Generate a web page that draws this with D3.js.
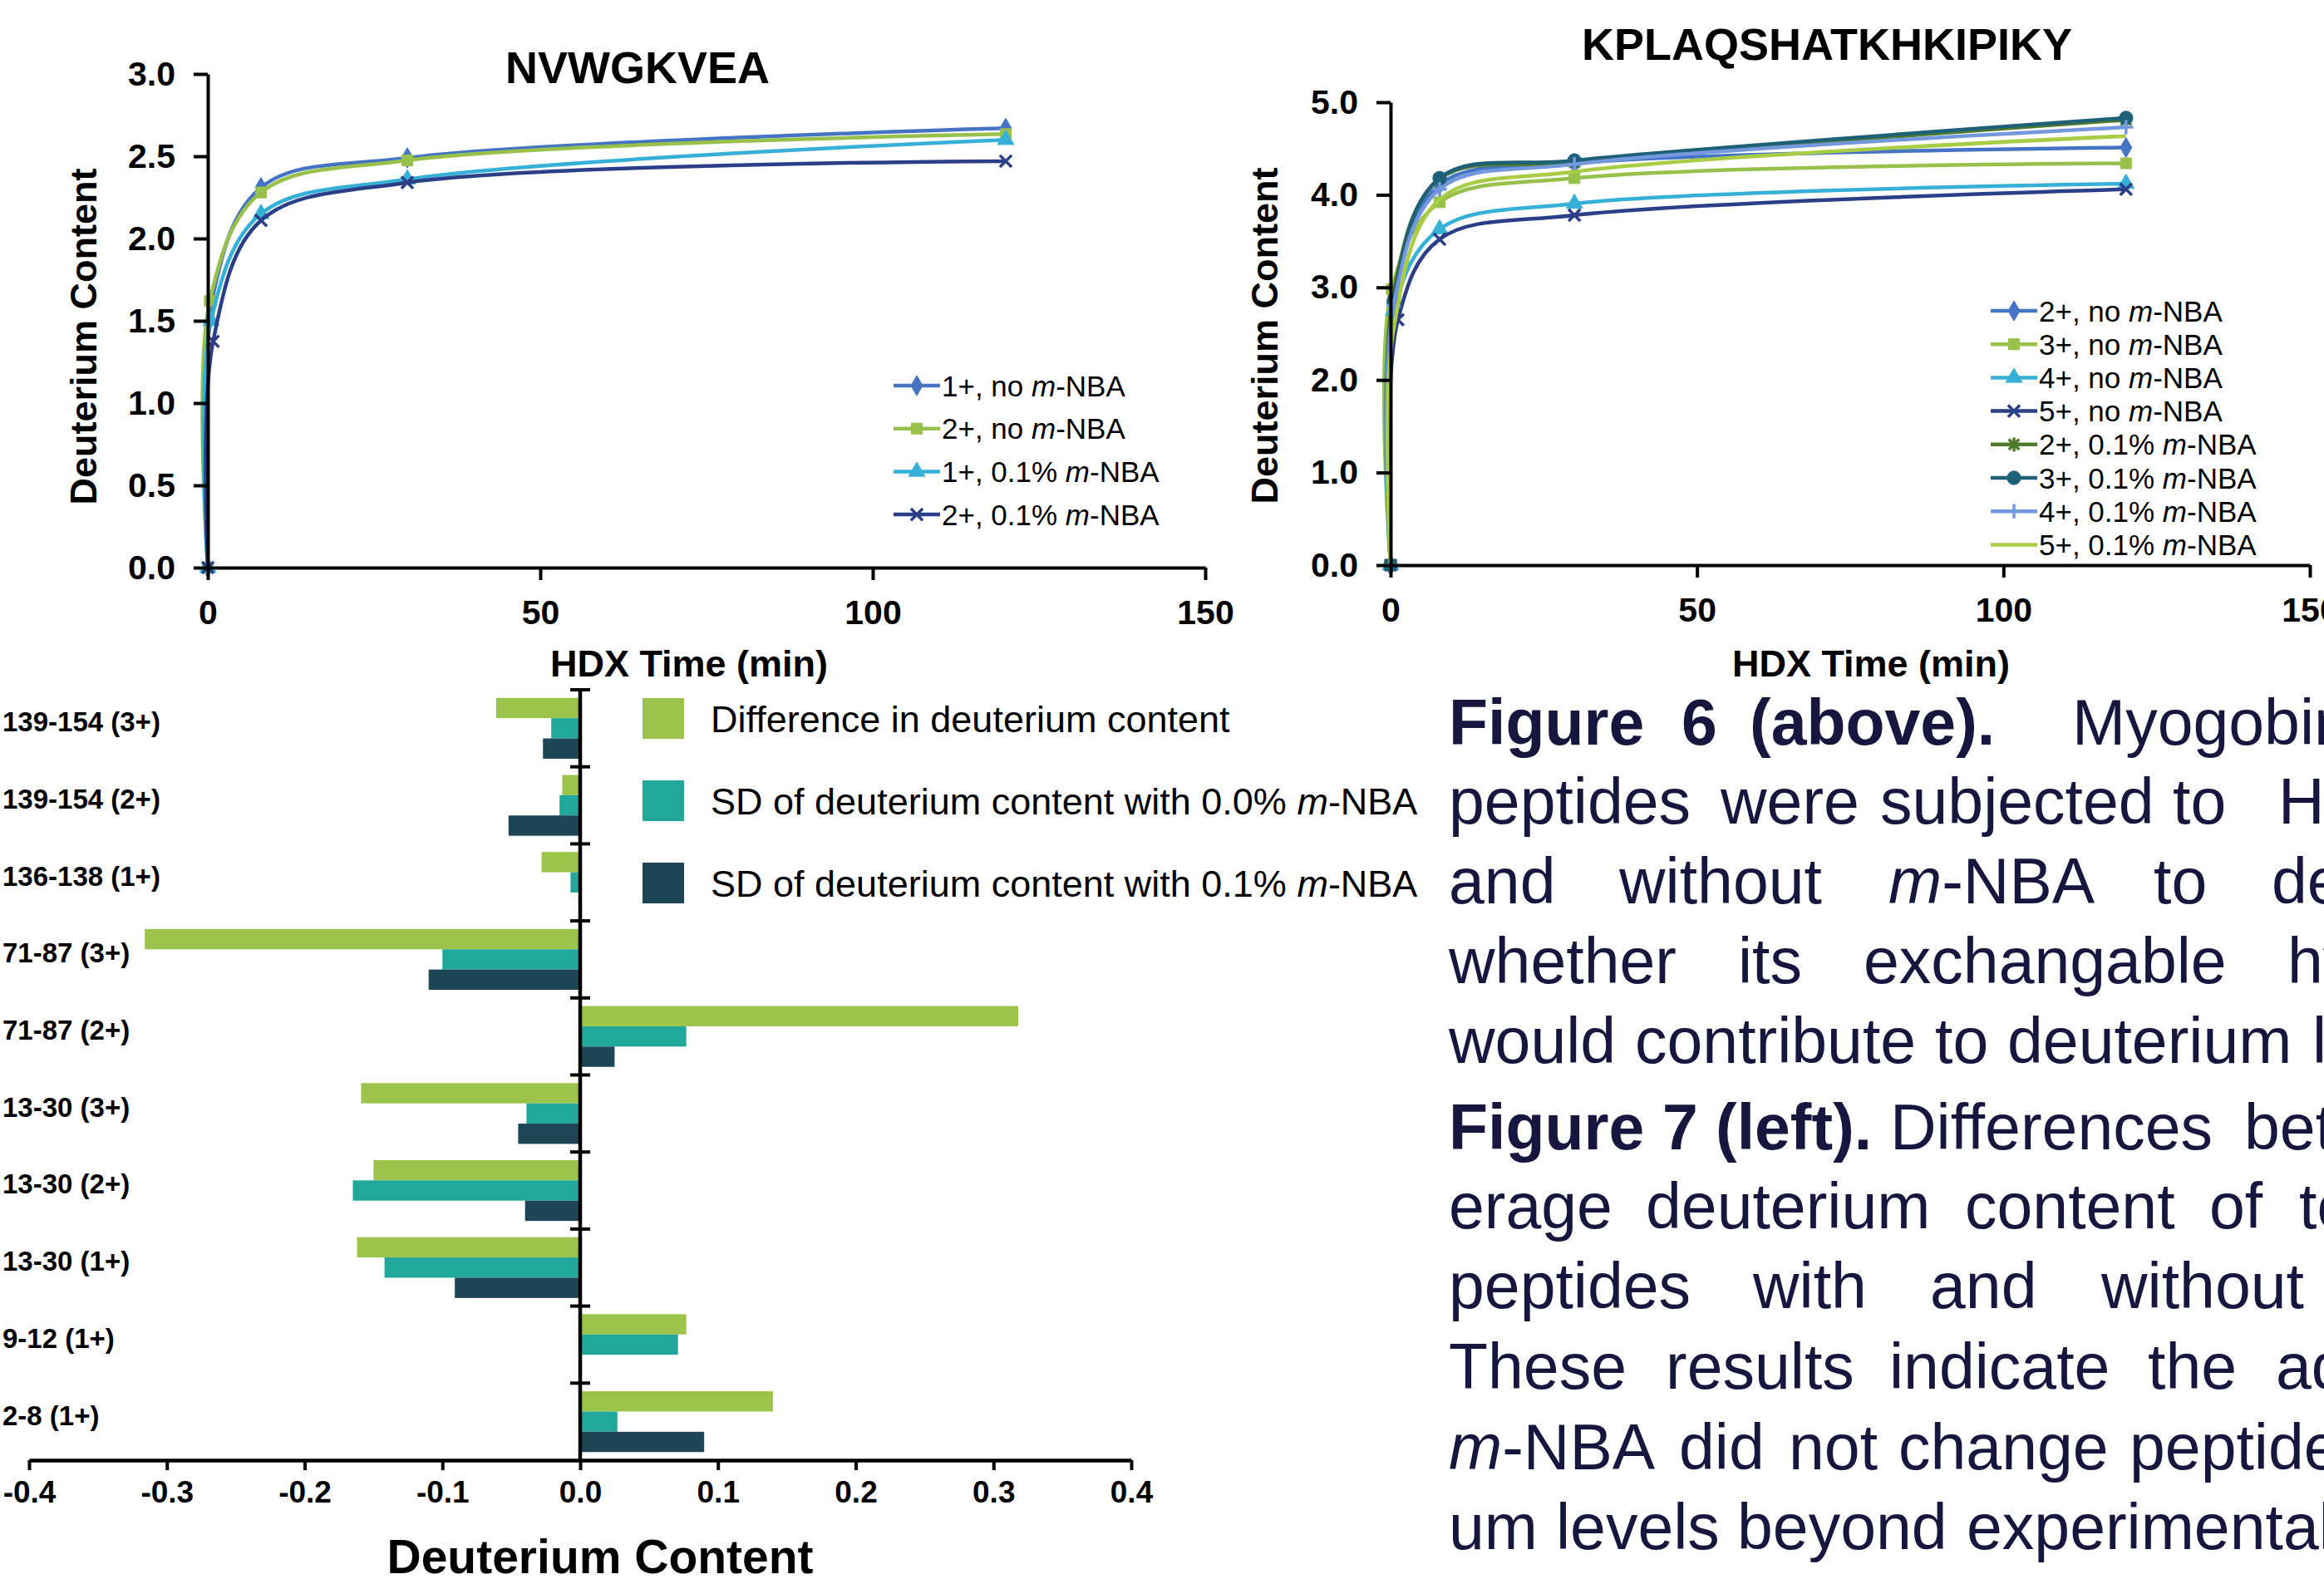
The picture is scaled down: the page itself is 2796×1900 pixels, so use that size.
<!DOCTYPE html>
<html>
<head>
<meta charset="utf-8">
<script src="https://cdn.jsdelivr.net/npm/d3@7"></script>
<style>
  body { margin: 0; background: #fff; }
  svg { display: block; font-family: "Liberation Sans", Arial, Helvetica, sans-serif; }
</style>
</head>
<body>
<svg id="fig" width="2796" height="1900"></svg>
<script>
// ---- NVWGKVEA uptake curves (time in min, deuterium content) ----
var nvwNames = ["1+, no m-NBA", "2+, no m-NBA", "1+, 0.1% m-NBA", "2+, 0.1% m-NBA"];
var nvwTimes = [
  [0, 0.5, 8, 30, 120],
  [0, 0.3, 8, 30, 120],
  [0, 0.5, 8, 30, 120],
  [0, 0.8, 8, 30, 120]
];
var nvwValues = [
  [0, 1.60, 2.31, 2.49, 2.67],
  [0, 1.62, 2.28, 2.475, 2.635],
  [0, 1.50, 2.15, 2.36, 2.60],
  [0, 1.375, 2.11, 2.34, 2.47]
];

// ---- KPLAQSHATKHKIPIKY uptake curves ----
var kplNames = ["2+, no m-NBA", "3+, no m-NBA", "4+, no m-NBA", "5+, no m-NBA",
                "2+, 0.1% m-NBA", "3+, 0.1% m-NBA", "4+, 0.1% m-NBA", "5+, 0.1% m-NBA"];
var kplTimes = [
  [0, 0.5, 8, 30, 120],
  [0, 0.2, 8, 30, 120],
  [0, 0.5, 8, 30, 120],
  [0, 1.2, 8, 30, 120],
  [0, 0.5, 8, 30, 120],
  [0, 0.5, 8, 30, 120],
  [0, 0.5, 8, 30, 120],
  [0, 0.5, 8, 30, 120]
];
var kplValues = [
  [0, 2.90, 4.11, 4.34, 4.51],
  [0, 2.98, 3.92, 4.18, 4.34],
  [0, 2.75, 3.63, 3.905, 4.12],
  [0, 2.65, 3.52, 3.78, 4.06],
  [0, 2.95, 4.17, 4.35, 4.81],
  [0, 2.85, 4.18, 4.37, 4.83],
  [0, 2.80, 4.06, 4.33, 4.73],
  [0, 2.55, 3.95, 4.25, 4.635]
];

var timeTicks = [0, 50, 100, 150];

// ---- Figure 7: differences and SDs per peptide ----
var barCats = ["139-154 (3+)", "139-154 (2+)", "136-138 (1+)", "71-87 (3+)", "71-87 (2+)",
               "13-30 (3+)", "13-30 (2+)", "13-30 (1+)", "9-12 (1+)", "2-8 (1+)"];
var barSeries = ["Difference in deuterium content",
                 "SD of deuterium content with 0.0% m-NBA",
                 "SD of deuterium content with 0.1% m-NBA"];
var diffValues = [-0.061, -0.013, -0.028, -0.316, 0.318, -0.159, -0.150, -0.162, 0.077, 0.140];
var sd0Values  = [-0.021, -0.015, -0.007, -0.100, 0.077, -0.039, -0.165, -0.142, 0.071, 0.027];
var sd1Values  = [-0.027, -0.052, -0.001, -0.110, 0.025, -0.045, -0.040, -0.091, 0, 0.090];
var barTicks = [-0.4, -0.3, -0.2, -0.1, 0, 0.1, 0.2, 0.3, 0.4];

// ---- caption text ----
var captionWords = [
  ["**Figure", "**6", "**(above).", "Myogobin"],
  ["peptides", "were", "subjected", "to", "HDX"],
  ["and", "without", "m-NBA", "to", "determine"],
  ["whether", "its", "exchangable", "hydrogens"],
  ["would", "contribute", "to", "deuterium", "levels."],
  ["**Figure", "**7", "**(left).", "Differences", "between"],
  ["erage", "deuterium", "content", "of", "ten"],
  ["peptides", "with", "and", "without"],
  ["These", "results", "indicate", "the", "addition"],
  ["m-NBA", "did", "not", "change", "peptide"],
  ["um", "levels", "beyond", "experimental"]
];

// styles
var nvwColors = ["#4674c4", "#98c14c", "#36b0d6", "#2a3f88"];
var nvwMarks = ["diamond", "square", "triangle", "x"];
var kplColors = ["#4674c4", "#98c14c", "#36b0d6", "#2a3f88", "#4d7b2c", "#1e6078", "#7398dd", "#a8cd45"];
var kplMarks = ["diamond", "square", "triangle", "x", "star", "circle", "plus", "none"];
var barColors = ["#9dc44a", "#22a89a", "#1d4556"];

// caption layout: word start positions per line
var captionX = [
  [1743, 2023, 2105, 2493],
  [1743, 2070, 2262, 2614, 2741],
  [1743, 1948, 2272, 2591, 2733],
  [1743, 2091, 2242, 2752],
  [1743, 1967, 2328, 2415, 2782],
  [1743, 2000, 2064, 2274, 2700],
  [1743, 1980, 2364, 2658, 2766],
  [1743, 2109, 2322, 2528],
  [1743, 2004, 2273, 2584, 2738],
  [1743, 2020, 2152, 2284, 2562],
  [1743, 1872, 2090, 2366]
];
var captionY = [896, 991, 1087, 1183, 1279, 1383, 1478, 1574, 1671, 1768, 1864];

var svg = d3.select("#fig");
svg.append("rect").attr("width", 2796).attr("height", 1900).attr("fill", "#fff");

// custom stroke markers
var symX = { draw: function(c, s) { var r = Math.sqrt(s) / 2;
  c.moveTo(-r, -r); c.lineTo(r, r); c.moveTo(-r, r); c.lineTo(r, -r); } };
var symPlus = { draw: function(c, s) { var r = Math.sqrt(s) / 2;
  c.moveTo(-r, 0); c.lineTo(r, 0); c.moveTo(0, -r); c.lineTo(0, r); } };
var symStar = { draw: function(c, s) { var r = Math.sqrt(s) / 2, q = r * 0.75;
  c.moveTo(0, -r); c.lineTo(0, r); c.moveTo(-q, -q); c.lineTo(q, q); c.moveTo(-q, q); c.lineTo(q, -q); } };

var markerDefs = {
  diamond: [d3.symbolDiamond, 170, false],
  square: [d3.symbolSquare, 170, false],
  triangle: [d3.symbolTriangle, 170, false],
  circle: [d3.symbolCircle, 210, false],
  x: [symX, 200, true],
  plus: [symPlus, 300, true],
  star: [symStar, 280, true]
};

function addMarker(g, type, color, px, py) {
  var m = markerDefs[type];
  if (!m) return;
  g.append("path")
    .attr("d", d3.symbol().type(m[0]).size(m[1])())
    .attr("transform", "translate(" + px + "," + py + ")")
    .attr("fill", m[2] ? "none" : color)
    .attr("stroke", color)
    .attr("stroke-width", m[2] ? 3.5 : 1);
}

// text with italic "m" in "m-NBA" and "**" for bold
function addRich(t, w) {
  var bold = w.indexOf("**") === 0;
  if (bold) w = w.slice(2);
  var i = w.indexOf("m-NBA");
  if (i >= 0) {
    if (i > 0) t.append("tspan").text(w.slice(0, i));
    t.append("tspan").attr("font-style", "italic").text("m");
    t.append("tspan").text(w.slice(i + 1));
  } else {
    t.append("tspan").attr("font-weight", bold ? "bold" : null).text(w);
  }
}

function styleAxis(a, size) {
  a.attr("font-family", null);
  a.select(".domain").attr("stroke", "#000").attr("stroke-width", 4);
  a.selectAll(".tick line").attr("stroke", "#000").attr("stroke-width", 4);
  a.selectAll(".tick text").attr("font-size", size).attr("font-weight", "bold").attr("fill", "#000");
}

function drawUptake(o) {
  var x = d3.scaleLinear().domain([0, 150]).range([o.x0, o.x1]);
  var y = d3.scaleLinear().domain([0, o.yMax]).range([o.y0, o.y1]);
  var g = svg.append("g");

  var line = d3.line()
    .x(function(d) { return x(d[0]); })
    .y(function(d) { return y(d[1]); })
    .curve(d3.curveCatmullRom.alpha(0.5));

  o.names.forEach(function(name, i) {
    var pts = o.times[i].map(function(t, k) { return [t, o.values[i][k]]; });
    g.append("path")
      .attr("d", line(pts))
      .attr("fill", "none")
      .attr("stroke", o.colors[i])
      .attr("stroke-width", 4.5)
      .attr("stroke-linejoin", "round");
    pts.forEach(function(p) { addMarker(g, o.marks[i], o.colors[i], x(p[0]), y(p[1])); });
  });

  var xa = g.append("g").attr("transform", "translate(0," + o.y0 + ")")
    .call(d3.axisBottom(x).tickValues(timeTicks).tickSize(15).tickSizeOuter(0).tickPadding(24));
  var ya = g.append("g").attr("transform", "translate(" + o.x0 + ",0)")
    .call(d3.axisLeft(y).tickValues(d3.range(0, o.yMax + 1e-9, o.yStep))
      .tickFormat(d3.format(".1f")).tickSize(17).tickSizeOuter(0).tickPadding(22));
  styleAxis(xa, 41);
  styleAxis(ya, 41);

  g.append("text").attr("x", o.titleX).attr("y", o.titleY)
    .attr("text-anchor", "middle").attr("font-size", 54).attr("font-weight", "bold")
    .text(o.title);
  g.append("text").attr("x", o.xTitle[0]).attr("y", o.xTitle[1])
    .attr("text-anchor", "middle").attr("font-size", 45).attr("font-weight", "bold")
    .text("HDX Time (min)");
  g.append("text")
    .attr("transform", "translate(" + o.yTitle[0] + "," + o.yTitle[1] + ") rotate(-90)")
    .attr("text-anchor", "middle").attr("font-size", 45).attr("font-weight", "bold")
    .text("Deuterium Content");

  // legend
  o.names.forEach(function(name, i) {
    var ly = o.legY + i * o.legDy;
    g.append("line").attr("x1", o.legX).attr("x2", o.legX + 56).attr("y1", ly).attr("y2", ly)
      .attr("stroke", o.colors[i]).attr("stroke-width", 4.5);
    addMarker(g, o.marks[i], o.colors[i], o.legX + 28, ly);
    var t = g.append("text").attr("x", o.legX + 58).attr("y", ly).attr("dy", "0.36em")
      .attr("font-size", 35).attr("fill", "#000");
    addRich(t, name);
  });
}

drawUptake({
  x0: 250, x1: 1450, y0: 683, y1: 89, yMax: 3, yStep: 0.5,
  title: "NVWGKVEA", titleX: 767, titleY: 100,
  xTitle: [829, 814], yTitle: [116, 405],
  legX: 1075, legY: 464, legDy: 51.7,
  names: nvwNames, times: nvwTimes, values: nvwValues, colors: nvwColors, marks: nvwMarks
});

drawUptake({
  x0: 1673, x1: 2779, y0: 680, y1: 123, yMax: 5, yStep: 1,
  title: "KPLAQSHATKHKIPIKY", titleX: 2198, titleY: 72,
  xTitle: [2251, 814], yTitle: [1537, 404],
  legX: 2395, legY: 374, legDy: 40.2,
  names: kplNames, times: kplTimes, values: kplValues, colors: kplColors, marks: kplMarks
});

// ---- Figure 7 bar chart ----
var bx = d3.scaleLinear().domain([-0.4, 0.4]).range([35, 1361]);
var by = d3.scaleBand().domain(barCats).range([830, 1757]);
var bInner = d3.scaleBand().domain([0, 1, 2]).range([0, by.bandwidth()]).paddingOuter(0.4);
var barData = [diffValues, sd0Values, sd1Values];
var bg = svg.append("g");

barCats.forEach(function(c, ci) {
  barData.forEach(function(vals, si) {
    var v = vals[ci];
    bg.append("rect")
      .attr("x", Math.min(bx(0), bx(v)))
      .attr("width", Math.abs(bx(v) - bx(0)))
      .attr("y", by(c) + bInner(si))
      .attr("height", bInner.bandwidth())
      .attr("fill", barColors[si]);
  });
  bg.append("text").attr("x", 3).attr("y", by(c) + by.bandwidth() / 2 - 8).attr("dy", "0.36em")
    .attr("font-size", 33).attr("font-weight", "bold").attr("fill", "#000").text(c);
});

var bxa = bg.append("g").attr("transform", "translate(0,1757)")
  .call(d3.axisBottom(bx).tickValues(barTicks).tickFormat(function(d) { return d.toFixed(1); })
    .tickSize(12).tickSizeOuter(0).tickPadding(13));
styleAxis(bxa, 37);
bxa.select(".domain").attr("stroke-width", 4.5);

// vertical zero axis with crossing ticks at category boundaries
bg.append("line").attr("x1", bx(0)).attr("x2", bx(0)).attr("y1", 830).attr("y2", 1757)
  .attr("stroke", "#000").attr("stroke-width", 4.5);
barCats.forEach(function(c) {
  bg.append("line").attr("x1", bx(0) - 12).attr("x2", bx(0) + 12)
    .attr("y1", by(c)).attr("y2", by(c)).attr("stroke", "#000").attr("stroke-width", 4);
});

bg.append("text").attr("x", 722).attr("y", 1893).attr("text-anchor", "middle")
  .attr("font-size", 57).attr("font-weight", "bold").text("Deuterium Content");

barSeries.forEach(function(s, i) {
  var top = 840 + i * 99;
  bg.append("rect").attr("x", 773).attr("y", top).attr("width", 50).attr("height", 49)
    .attr("fill", barColors[i]);
  var t = bg.append("text").attr("x", 855).attr("y", top + 24.5).attr("dy", "0.36em")
    .attr("font-size", 45).attr("fill", "#000");
  addRich(t, s);
});

// ---- caption ----
var cap = svg.append("g").attr("fill", "#16163e").attr("font-size", 77);
captionWords.forEach(function(words, li) {
  words.forEach(function(w, wi) {
    addRich(cap.append("text").attr("x", captionX[li][wi]).attr("y", captionY[li]), w);
  });
});
</script>
</body>
</html>
